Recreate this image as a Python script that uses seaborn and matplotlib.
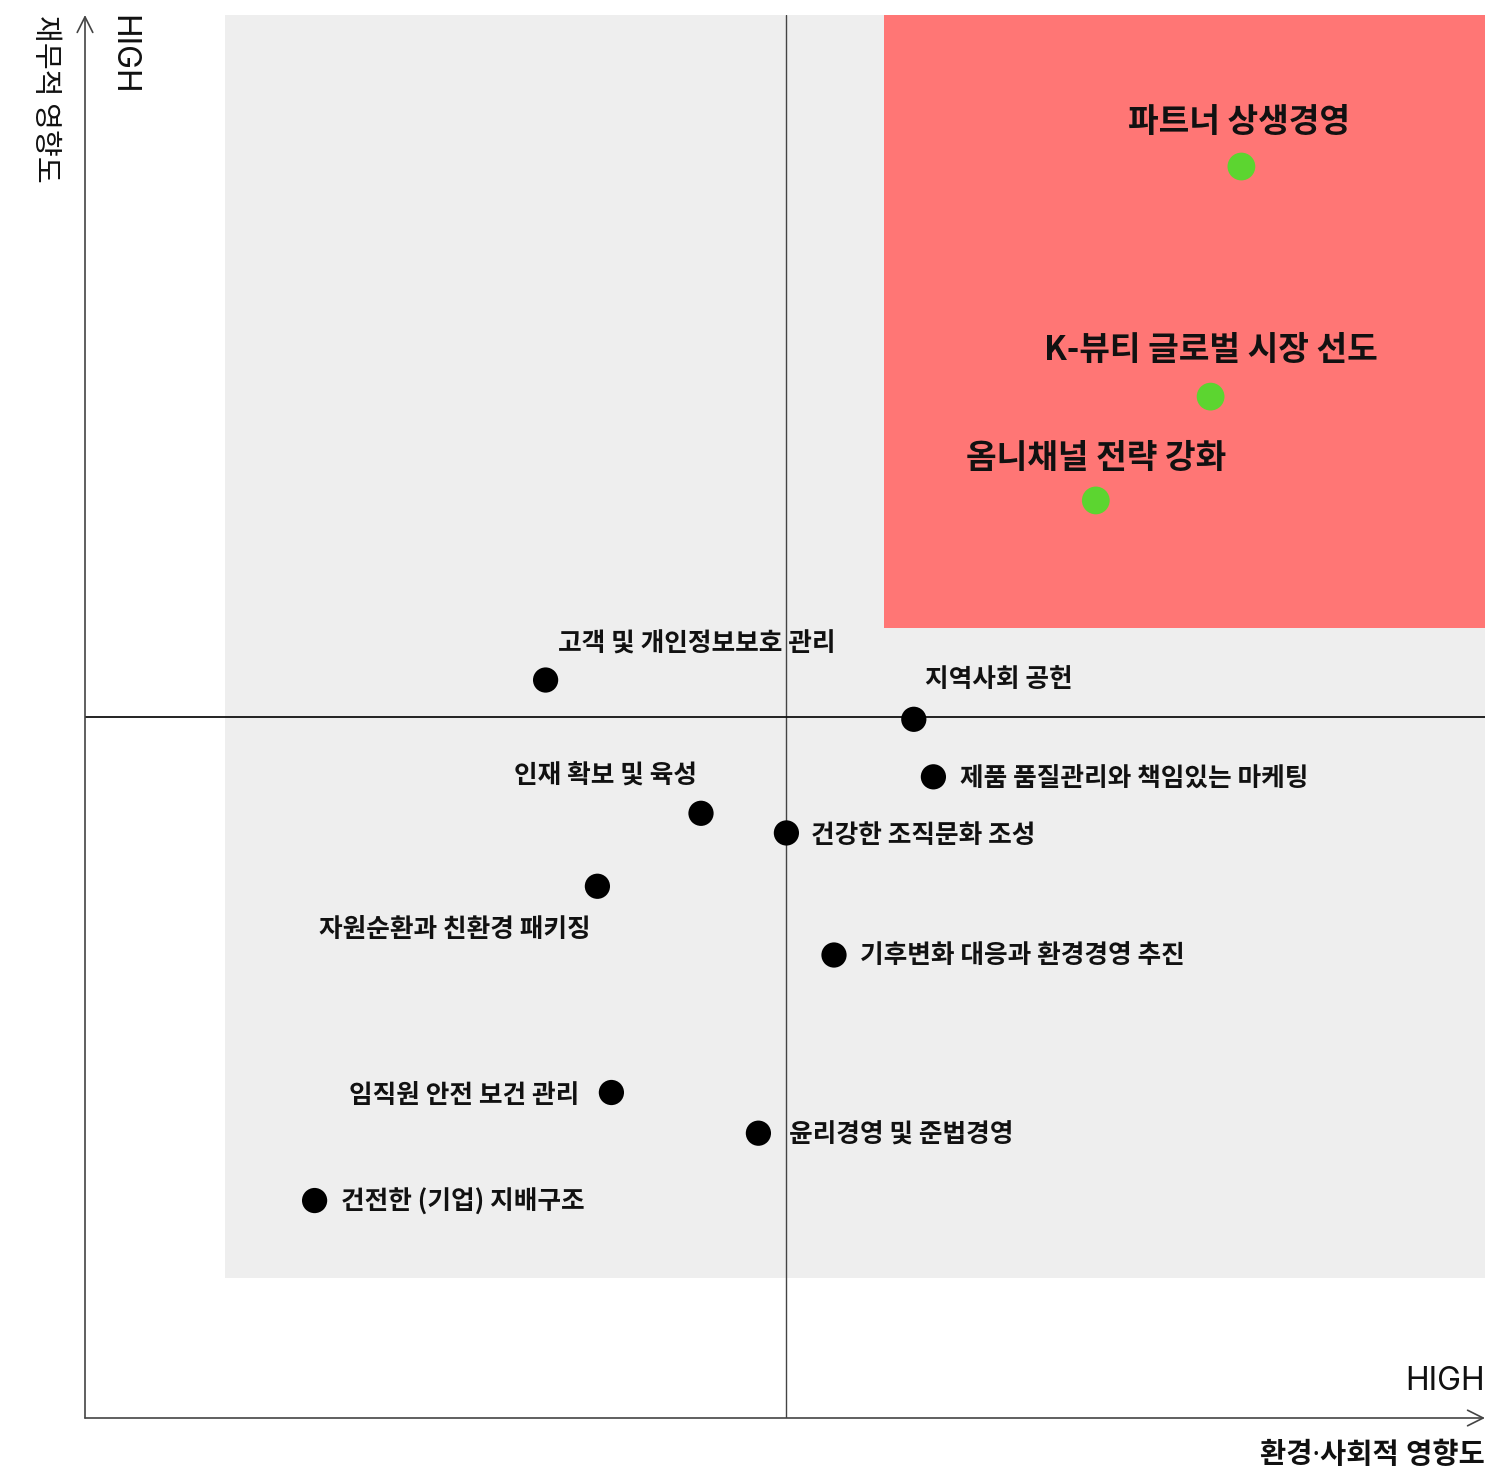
import matplotlib
matplotlib.use("Agg")
import matplotlib.pyplot as plt
import seaborn as sns
import pandas as pd

# Materiality issues: environmental/social impact (x) vs financial impact (y), 0-100 scale
issues = [
    "파트너 상생경영",
    "K-뷰티 글로벌 시장 선도",
    "옴니채널 전략 강화",
    "고객 및 개인정보보호 관리",
    "지역사회 공헌",
    "제품 품질관리와 책임있는 마케팅",
    "인재 확보 및 육성",
    "건강한 조직문화 조성",
    "자원순환과 친환경 패키징",
    "기후변화 대응과 환경경영 추진",
    "임직원 안전 보건 관리",
    "윤리경영 및 준법경영",
    "건전한 (기업) 지배구조",
]
social_impact = [82.6, 80.4, 72.2, 32.9, 59.2, 60.6, 44.0, 50.1, 36.6, 53.5, 37.6, 48.1, 16.4]
financial_impact = [89.2, 72.8, 65.4, 52.6, 49.8, 45.7, 43.1, 41.7, 37.9, 33.0, 23.2, 20.3, 15.5]
tier = ["핵심", "핵심", "핵심"] + ["일반"] * 10

# Background zones (data units)
matrix_area = (10, 100, 10, 100)      # x0, x1, y0, y1
material_area = (57.1, 100, 56.3, 100)
mid_x, mid_y = 50.1, 50.0

df = pd.DataFrame({"issue": issues, "x": social_impact, "y": financial_impact, "tier": tier})

sns.set_theme(style="white")
plt.rcParams["font.family"] = ["Noto Sans CJK KR", "DejaVu Sans"]
LATIN_FIRST = ["Noto Sans", "Noto Sans CJK KR"]

W, H = 1485, 1472
fig = plt.figure(figsize=(W / 100, H / 100), dpi=100)
fig.patch.set_facecolor("white")
ax = fig.add_axes([85 / W, 54 / H, 1400 / W, 1403 / H])
ax.set_xlim(0, 100)
ax.set_ylim(0, 100)
ax.axis("off")

GREY = "#eeeeee"
RED = "#ff7675"
GREEN = "#5cd530"
INK = "#111111"

ax.add_patch(plt.Rectangle((matrix_area[0], matrix_area[2]),
                           matrix_area[1] - matrix_area[0], matrix_area[3] - matrix_area[2],
                           facecolor=GREY, edgecolor="none", zorder=0))
ax.add_patch(plt.Rectangle((material_area[0], material_area[2]),
                           material_area[1] - material_area[0], material_area[3] - material_area[2],
                           facecolor=RED, edgecolor="none", zorder=1))

# Quadrant guides
ax.plot([mid_x, mid_x], [0, 100], color="#444444", lw=1.0, zorder=2)
ax.plot([0, 100], [mid_y, mid_y], color="#111111", lw=1.3, zorder=2)

# Axis arrows
arrow = dict(arrowstyle="->", color="#444444", lw=1.2, mutation_scale=28, shrinkA=0, shrinkB=0)
ax.annotate("", xy=(0, 100), xytext=(0, 0), arrowprops=arrow, annotation_clip=False, zorder=3)
ax.annotate("", xy=(100, 0), xytext=(0, 0), arrowprops=arrow, annotation_clip=False, zorder=3)

sns.scatterplot(data=df, x="x", y="y", hue="tier", size="tier",
                palette={"핵심": GREEN, "일반": "black"},
                sizes={"핵심": 400, "일반": 330},
                edgecolor="none", legend=False, ax=ax, zorder=4)

# Label placement: (ha, dx, dy in points, size, weight)
placement = {
    "파트너 상생경영": ("center", -2, 32, 24, "bold"),
    "K-뷰티 글로벌 시장 선도": ("center", 0, 33, 24, "bold"),
    "옴니채널 전략 강화": ("center", 0, 30, 24, "bold"),
    "고객 및 개인정보보호 관리": ("left", 9, 26, 18.5, "semibold"),
    "지역사회 공헌": ("left", 8, 29, 18.5, "semibold"),
    "제품 품질관리와 책임있는 마케팅": ("left", 19, -2, 18.5, "semibold"),
    "인재 확보 및 육성": ("right", -3, 27, 18.5, "semibold"),
    "건강한 조직문화 조성": ("left", 18, -2, 18.5, "semibold"),
    "자원순환과 친환경 패키징": ("right", -5, -31, 18.5, "semibold"),
    "기후변화 대응과 환경경영 추진": ("left", 19, -0.6, 18.5, "semibold"),
    "임직원 안전 보건 관리": ("right", -23, -2, 18.5, "semibold"),
    "윤리경영 및 준법경영": ("left", 22, -1.3, 18.5, "semibold"),
    "건전한 (기업) 지배구조": ("left", 19, -1.3, 18.5, "semibold"),
}
for name, x, y in zip(issues, social_impact, financial_impact):
    ha, dx, dy, fs, fw = placement[name]
    ax.annotate(name, xy=(x, y), xytext=(dx, dy), textcoords="offset points",
                ha=ha, va="center", fontsize=fs, fontweight=fw, color=INK, zorder=5)

# Axis titles
ax.text(-2.86, 100, "재무적 영향도", rotation=270, ha="center", va="top",
        fontsize=21, color=INK, clip_on=False)
ax.text(2.7, 100, "HIGH", rotation=270, ha="center", va="top",
        fontsize=23, color=INK, family=["Inter", "DejaVu Sans"], clip_on=False)
ax.text(100, 2.6, "HIGH", ha="right", va="center",
        fontsize=23, color=INK, family=["Inter", "DejaVu Sans"], clip_on=False)
ax.text(100, -2.65, "환경·사회적 영향도", ha="right", va="center",
        fontsize=20.5, fontweight="bold", color=INK, family=LATIN_FIRST, clip_on=False)

fig.savefig("out.png", dpi=100, facecolor="white")
